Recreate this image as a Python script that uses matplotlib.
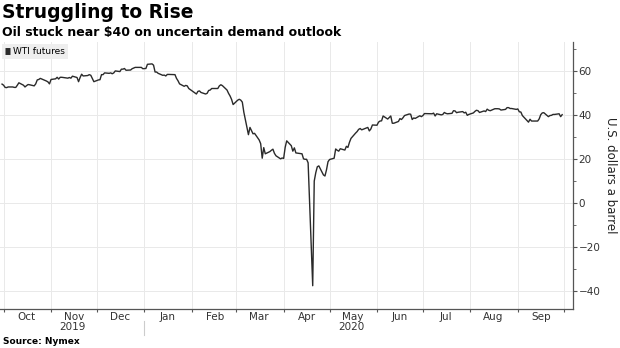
import matplotlib.pyplot as plt
import matplotlib.dates as mdates
import matplotlib.transforms as mtransforms
import pandas as pd

# WTI front-month futures, USD per barrel
dates = [
    '2019-09-30', '2019-10-01', '2019-10-02', '2019-10-03', '2019-10-04', '2019-10-07', '2019-10-08',
    '2019-10-09', '2019-10-10', '2019-10-11', '2019-10-14', '2019-10-15', '2019-10-16', '2019-10-17',
    '2019-10-18', '2019-10-21', '2019-10-22', '2019-10-23', '2019-10-24', '2019-10-25', '2019-10-28',
    '2019-10-29', '2019-10-30', '2019-10-31', '2019-11-01', '2019-11-04', '2019-11-05', '2019-11-06',
    '2019-11-07', '2019-11-08', '2019-11-11', '2019-11-12', '2019-11-13', '2019-11-14', '2019-11-15',
    '2019-11-18', '2019-11-19', '2019-11-20', '2019-11-21', '2019-11-22', '2019-11-25', '2019-11-26',
    '2019-11-27', '2019-11-29', '2019-12-02', '2019-12-03', '2019-12-04', '2019-12-05', '2019-12-06',
    '2019-12-09', '2019-12-10', '2019-12-11', '2019-12-12', '2019-12-13', '2019-12-16', '2019-12-17',
    '2019-12-18', '2019-12-19', '2019-12-20', '2019-12-23', '2019-12-24', '2019-12-26', '2019-12-27',
    '2019-12-30', '2019-12-31', '2020-01-02', '2020-01-03', '2020-01-06', '2020-01-07', '2020-01-08',
    '2020-01-09', '2020-01-10', '2020-01-13', '2020-01-14', '2020-01-15', '2020-01-16', '2020-01-17',
    '2020-01-21', '2020-01-22', '2020-01-23', '2020-01-24', '2020-01-27', '2020-01-28', '2020-01-29',
    '2020-01-30', '2020-01-31', '2020-02-03', '2020-02-04', '2020-02-05', '2020-02-06', '2020-02-07',
    '2020-02-10', '2020-02-11', '2020-02-12', '2020-02-13', '2020-02-14', '2020-02-18', '2020-02-19',
    '2020-02-20', '2020-02-21', '2020-02-24', '2020-02-25', '2020-02-26', '2020-02-27', '2020-02-28',
    '2020-03-02', '2020-03-03', '2020-03-04', '2020-03-05', '2020-03-06', '2020-03-09', '2020-03-10',
    '2020-03-11', '2020-03-12', '2020-03-13', '2020-03-16', '2020-03-17', '2020-03-18', '2020-03-19',
    '2020-03-20', '2020-03-23', '2020-03-24', '2020-03-25', '2020-03-26', '2020-03-27', '2020-03-30',
    '2020-03-31', '2020-04-01', '2020-04-02', '2020-04-03', '2020-04-06', '2020-04-07', '2020-04-08',
    '2020-04-09', '2020-04-13', '2020-04-14', '2020-04-15', '2020-04-16', '2020-04-17', '2020-04-20',
    '2020-04-21', '2020-04-22', '2020-04-23', '2020-04-24', '2020-04-27', '2020-04-28', '2020-04-29',
    '2020-04-30', '2020-05-01', '2020-05-04', '2020-05-05', '2020-05-06', '2020-05-07', '2020-05-08',
    '2020-05-11', '2020-05-12', '2020-05-13', '2020-05-14', '2020-05-15', '2020-05-18', '2020-05-19',
    '2020-05-20', '2020-05-21', '2020-05-22', '2020-05-26', '2020-05-27', '2020-05-28', '2020-05-29',
    '2020-06-01', '2020-06-02', '2020-06-03', '2020-06-04', '2020-06-05', '2020-06-08', '2020-06-09',
    '2020-06-10', '2020-06-11', '2020-06-12', '2020-06-15', '2020-06-16', '2020-06-17', '2020-06-18',
    '2020-06-19', '2020-06-22', '2020-06-23', '2020-06-24', '2020-06-25', '2020-06-26', '2020-06-29',
    '2020-06-30', '2020-07-01', '2020-07-02', '2020-07-06', '2020-07-07', '2020-07-08', '2020-07-09',
    '2020-07-10', '2020-07-13', '2020-07-14', '2020-07-15', '2020-07-16', '2020-07-17', '2020-07-20',
    '2020-07-21', '2020-07-22', '2020-07-23', '2020-07-24', '2020-07-27', '2020-07-28', '2020-07-29',
    '2020-07-30', '2020-07-31', '2020-08-03', '2020-08-04', '2020-08-05', '2020-08-06', '2020-08-07',
    '2020-08-10', '2020-08-11', '2020-08-12', '2020-08-13', '2020-08-14', '2020-08-17', '2020-08-18',
    '2020-08-19', '2020-08-20', '2020-08-21', '2020-08-24', '2020-08-25', '2020-08-26', '2020-08-27',
    '2020-08-28', '2020-08-31', '2020-09-01', '2020-09-02', '2020-09-03', '2020-09-04', '2020-09-08',
    '2020-09-09', '2020-09-10', '2020-09-11', '2020-09-14', '2020-09-15', '2020-09-16', '2020-09-17',
    '2020-09-18', '2020-09-21', '2020-09-22', '2020-09-23', '2020-09-24', '2020-09-25', '2020-09-28',
    '2020-09-29', '2020-09-30',
]
wti = [
    54.1, 53.6, 52.6, 52.5, 52.8, 52.8, 52.6,
    52.6, 53.6, 54.7, 53.6, 52.8, 53.4, 53.9,
    53.8, 53.3, 54.2, 56.0, 56.2, 56.7, 55.8,
    55.5, 55.1, 54.2, 56.2, 56.5, 57.2, 56.4,
    57.2, 57.2, 56.9, 56.8, 57.1, 56.8, 57.7,
    57.1, 55.2, 57.1, 58.6, 57.8, 58.0, 58.4,
    58.1, 55.2, 56.0, 56.1, 58.4, 58.4, 59.2,
    59.0, 59.2, 58.8, 59.2, 60.1, 59.8, 60.9,
    60.9, 61.2, 60.4, 60.5, 61.1, 61.7, 61.7,
    61.7, 61.1, 61.2, 63.1, 63.3, 62.7, 59.6,
    59.6, 59.0, 58.1, 58.2, 57.8, 58.5, 58.5,
    58.4, 56.7, 55.6, 54.2, 53.1, 53.5, 53.3,
    52.1, 51.6, 50.1, 49.6, 50.8, 51.0, 50.3,
    49.6, 49.9, 51.2, 51.4, 52.1, 52.1, 53.3,
    53.8, 53.4, 51.4, 49.9, 48.7, 47.1, 44.8,
    46.8, 47.2, 46.8, 45.9, 41.3, 31.1, 34.4,
    33.0, 31.5, 31.7, 28.7, 27.0, 20.4, 25.2,
    22.4, 23.4, 24.0, 24.5, 22.6, 21.5, 20.1,
    20.5, 20.3, 25.3, 28.3, 26.1, 23.6, 25.1,
    22.8, 22.4, 20.1, 19.9, 19.9, 18.3, -37.6,
    10.0, 13.8, 16.5, 16.9, 12.8, 12.3, 15.1,
    18.8, 19.8, 20.4, 24.6, 24.0, 23.6, 24.7,
    24.1, 25.8, 25.3, 27.6, 29.4, 31.8, 32.5,
    33.5, 33.9, 33.3, 34.4, 32.8, 33.7, 35.5,
    35.4, 36.8, 37.3, 37.4, 39.6, 38.2, 38.9,
    39.6, 36.3, 36.3, 37.1, 38.4, 38.0, 38.8,
    39.8, 40.5, 40.4, 38.0, 38.7, 38.5, 39.7,
    39.3, 39.8, 40.7, 40.6, 40.6, 40.9, 39.6,
    40.6, 40.1, 40.3, 41.2, 40.8, 40.6, 40.8,
    42.0, 41.9, 41.1, 41.3, 41.6, 41.0, 41.3,
    39.9, 40.3, 41.0, 41.7, 42.2, 42.0, 41.2,
    41.9, 41.6, 42.7, 42.2, 42.0, 42.9, 42.9,
    42.9, 42.8, 42.3, 42.6, 43.4, 43.4, 43.0,
    43.0, 42.6, 42.8, 41.5, 41.4, 39.8, 36.8,
    38.1, 37.3, 37.3, 37.3, 38.3, 40.2, 41.0,
    41.1, 39.3, 39.8, 39.9, 40.3, 40.3, 40.6,
    39.3, 40.2,
]
y_ticks = [-40, -20, 0, 20, 40, 60]
month_labels = ['Oct', 'Nov', 'Dec', 'Jan', 'Feb', 'Mar', 'Apr', 'May', 'Jun', 'Jul', 'Aug', 'Sep']

x = pd.to_datetime(dates)

fig = plt.figure(figsize=(6.2, 3.48), dpi=100)
ax = fig.add_axes([0.0, 0.112, 0.924, 0.767])

ax.plot(x, wti, color='#2a2a2a', lw=1.0, label='WTI futures')

ax.set_xlim(pd.Timestamp('2019-09-28 16:00'), pd.Timestamp('2020-10-07'))
ax.set_ylim(-48.2, 73.2)

# y axis on the right
ax.yaxis.tick_right()
ax.yaxis.set_label_position('right')
ax.set_yticks(y_ticks)
ax.set_yticks(range(-40, 71, 10), minor=True)
ax.tick_params(axis='y', which='major', length=3, width=0.8, color='#555555',
               labelsize=7.5, labelcolor='#333333', pad=1)
ax.tick_params(axis='y', which='minor', length=2, width=0.6, color='#555555')
ax.set_ylabel('U.S. dollars a barrel', rotation=270, fontsize=8.5, color='#222222', labelpad=12)

# month boundaries as ticks, month names centred between them
ax.xaxis.set_major_locator(mdates.MonthLocator())
ax.xaxis.set_major_formatter(plt.NullFormatter())
ax.xaxis.set_minor_locator(mdates.MonthLocator(bymonthday=16))
ax.xaxis.set_minor_formatter(plt.FixedFormatter(month_labels))
ax.tick_params(axis='x', which='major', length=2.5, width=0.8, color='#555555')
ax.tick_params(axis='x', which='minor', length=0, labelsize=7.5, labelcolor='#333333', pad=2.5)

ax.grid(True, which='major', color='#e9e9e9', lw=0.7)
ax.set_axisbelow(True)

for s in ['top', 'left']:
    ax.spines[s].set_visible(False)
ax.spines['right'].set_color('#555555')
ax.spines['bottom'].set_color('#555555')
ax.spines['right'].set_linewidth(0.9)
ax.spines['bottom'].set_linewidth(0.9)

# year labels and separator under the axis
trans = mtransforms.blended_transform_factory(ax.transData, fig.transFigure)
ax.text(pd.Timestamp('2019-11-15'), 0.06, '2019', transform=trans, ha='center', va='center',
        fontsize=7.5, color='#333333')
ax.text(pd.Timestamp('2020-05-15'), 0.06, '2020', transform=trans, ha='center', va='center',
        fontsize=7.5, color='#333333')
ax.plot([pd.Timestamp('2020-01-01')] * 2, [0.037, 0.077], transform=trans, color='#cccccc',
        lw=0.8, clip_on=False)

leg = ax.legend(loc='upper left', bbox_to_anchor=(0.0, 1.0), handlelength=0.6, handleheight=0.6,
                handletextpad=0.3, borderpad=0.35, borderaxespad=0.2, fontsize=6.5,
                frameon=True, fancybox=False)
leg.get_frame().set_facecolor('#eeeeee')
leg.get_frame().set_edgecolor('none')
leg.get_frame().set_alpha(1)
for h in leg.legend_handles:
    h.set_linewidth(5)
    h.set_solid_capstyle('butt')

fig.text(0.003, 0.99, 'Struggling to Rise', fontsize=13.5, fontweight='bold', va='top', ha='left')
fig.text(0.003, 0.925, 'Oil stuck near $40 on uncertain demand outlook', fontsize=9,
         fontweight='bold', va='top', ha='left')
fig.text(0.005, 0.006, 'Source: Nymex', fontsize=6.5, fontweight='bold', va='bottom', ha='left')

fig.savefig('out.png', dpi=100)
